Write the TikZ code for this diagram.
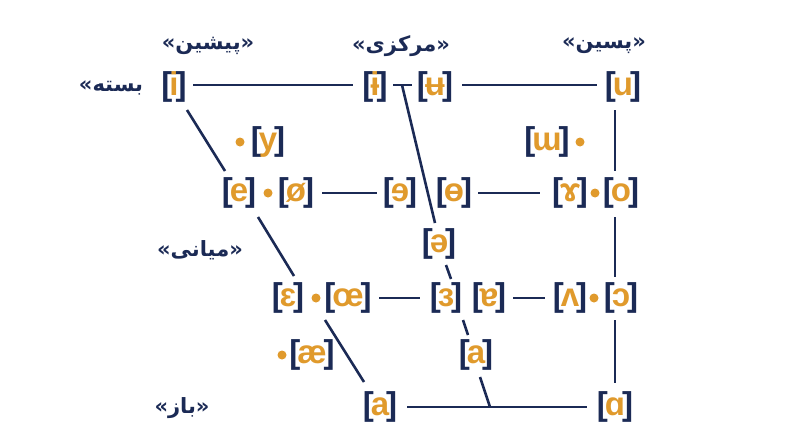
\documentclass[tikz,border=0pt]{standalone}
\usepackage{fontspec}
\setmainfont{Liberation Sans}
\newfontfamily\fafont[Script=Arabic]{DejaVu Sans}
\TeXXeTstate=1
\definecolor{navy}{HTML}{1B2A55}
\definecolor{gold}{HTML}{E09A2C}
\newcommand{\ipa}[1]{\textcolor{navy}{[}\kern-3pt\textcolor{gold}{#1}\kern-3pt\textcolor{navy}{]}}
\newcommand{\fatext}[1]{\beginR #1\endR}
\begin{document}
\begin{tikzpicture}[x=1pt,y=-1pt,
  ipanode/.style={inner sep=0pt, anchor=center, font=\fontsize{33}{33}\selectfont\bfseries},
  falabel/.style={inner sep=0pt, anchor=center, text=navy, font=\fafont\bfseries\fontsize{21}{21}\selectfont},
  golddot/.style={circle, fill=gold, inner sep=0pt, minimum size=9pt},
  edge/.style={draw=navy, line width=2.6pt}]
\useasboundingbox (0,0) rectangle (800,447);
\fill[white] (0,0) rectangle (800,447);

% headers
\node[falabel] (hfront) at (208,46) {»\fatext{پیشین}«};
\node[falabel] (hcentral) at (401,46) {»\fatext{مرکزی}«};
\node[falabel] (hback) at (604,46) {»\fatext{پسین}«};
\node[falabel] (lclose) at (111,88) {»\fatext{بسته}};
\node[falabel] (lmid) at (200,250) {»\fatext{میانی}«};
\node[falabel] (lopen) at (182,408) {»\fatext{باز}«};

% row 1
\node[ipanode] (i) at (174,87) {\ipa{i}};
\node[ipanode] (ibar) at (375,87) {\ipa{ɨ}};
\node[ipanode] (ubar) at (435,87) {\ipa{ʉ}};
\node[ipanode] (u) at (623,87) {\ipa{u}};
% row 1.5
\node[golddot] (dy) at (240,142) {};
\node[ipanode] (y) at (268,142) {\ipa{y}};
\node[ipanode] (wu) at (547,142) {\ipa{ɯ}};
\node[golddot] (dwu) at (580,142) {};
% row 2
\node[ipanode] (e) at (239,193) {\ipa{e}};
\node[golddot] (de) at (268,193) {};
\node[ipanode] (oe) at (296,193) {\ipa{ø}};
\node[ipanode] (erev) at (400,193) {\ipa{ɘ}};
\node[ipanode] (obar) at (454,193) {\ipa{ɵ}};
\node[ipanode] (gam) at (570,193) {\ipa{ɤ}};
\node[golddot] (dgam) at (595,193) {};
\node[ipanode] (o) at (621,193) {\ipa{o}};
% schwa
\node[ipanode] (schwa) at (439,244) {\ipa{ə}};
% row 3
\node[ipanode] (eps) at (288,298) {\ipa{ɛ}};
\node[golddot] (deps) at (316,298) {};
\node[ipanode] (oelig) at (348,298) {\ipa{œ}};
\node[ipanode] (epsrev) at (446,298) {\ipa{ɜ}};
\node[ipanode] (aturn) at (489,298) {\ipa{ɐ}};
\node[ipanode] (vturn) at (570,298) {\ipa{ʌ}};
\node[golddot] (dvturn) at (594,298) {};
\node[ipanode] (oopen) at (621,298) {\ipa{ɔ}};
% row 4
\node[golddot] (dae) at (282,355) {};
\node[ipanode] (ae) at (312,355) {\ipa{æ}};
\node[ipanode] (acent) at (476,355) {\ipa{a}};
% row 5
\node[ipanode] (a) at (380,407) {\ipa{a}};
\node[ipanode] (ascript) at (615,407) {\ipa{ɑ}};

% connector points
\coordinate (r1a) at (193,85); \coordinate (r1b) at (353,85);
\coordinate (r1c) at (462,85); \coordinate (r1d) at (597,85);
\coordinate (tka) at (393,85); \coordinate (tkb) at (412,85);
\coordinate (c1a) at (402,85); \coordinate (c1b) at (435,223);
\coordinate (c2a) at (446,265); \coordinate (c2b) at (451,279);
\coordinate (c3a) at (463,320); \coordinate (c3b) at (468,335);
\coordinate (c4a) at (480,377); \coordinate (c4b) at (490,407);
\coordinate (r2a) at (322,193); \coordinate (r2b) at (377,193);
\coordinate (r2c) at (478,193); \coordinate (r2d) at (540,193);
\coordinate (r3a) at (379,298); \coordinate (r3b) at (420,298);
\coordinate (r3c) at (513,298); \coordinate (r3d) at (545,298);
\coordinate (r5a) at (407,407); \coordinate (r5b) at (587,407);
\coordinate (f1a) at (187,110); \coordinate (f1b) at (225,171);
\coordinate (f2a) at (258,217); \coordinate (f2b) at (294,276);
\coordinate (f3a) at (325,320); \coordinate (f3b) at (364,382);
\coordinate (b1a) at (615,110); \coordinate (b1b) at (615,171);
\coordinate (b2a) at (615,217); \coordinate (b2b) at (615,277);
\coordinate (b3a) at (615,320); \coordinate (b3b) at (615,383);

\draw[edge] (r1a) -- (r1b);
\draw[edge] (r1c) -- (r1d);
\draw[edge] (tka) -- (tkb);
\draw[edge] (c1a) -- (c1b);
\draw[edge] (c2a) -- (c2b);
\draw[edge] (c3a) -- (c3b);
\draw[edge] (c4a) -- (c4b);
\draw[edge] (r2a) -- (r2b);
\draw[edge] (r2c) -- (r2d);
\draw[edge] (r3a) -- (r3b);
\draw[edge] (r3c) -- (r3d);
\draw[edge] (r5a) -- (r5b);
\draw[edge] (f1a) -- (f1b);
\draw[edge] (f2a) -- (f2b);
\draw[edge] (f3a) -- (f3b);
\draw[edge] (b1a) -- (b1b);
\draw[edge] (b2a) -- (b2b);
\draw[edge] (b3a) -- (b3b);
\end{tikzpicture}
\end{document}
